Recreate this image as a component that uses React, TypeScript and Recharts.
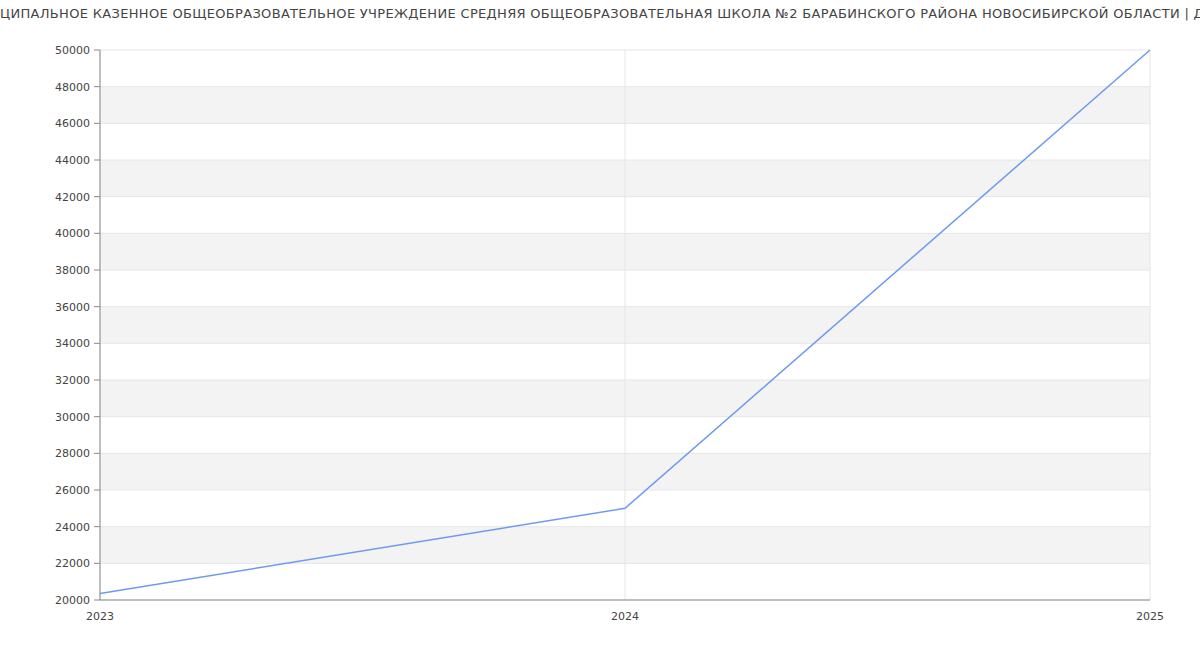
import { LineChart, Line, XAxis, YAxis, CartesianGrid } from "recharts";

const TITLE =
  "ЦИПАЛЬНОЕ КАЗЕННОЕ ОБЩЕОБРАЗОВАТЕЛЬНОЕ УЧРЕЖДЕНИЕ СРЕДНЯЯ ОБЩЕОБРАЗОВАТЕЛЬНАЯ ШКОЛА №2 БАРАБИНСКОГО РАЙОНА НОВОСИБИРСКОЙ ОБЛАСТИ | Д";

const YEARS = [2023, 2024, 2025];
const SALARY = [20350, 25000, 50000];
const Y_TICKS = [
  20000, 22000, 24000, 26000, 28000, 30000, 32000, 34000, 36000, 38000, 40000,
  42000, 44000, 46000, 48000, 50000,
];

const data = YEARS.map((year, i) => ({ year, salary: SALARY[i] }));

const tickStyle = { fontSize: 11, fill: "#444", fontFamily: "DejaVu Sans" };

export default function App() {
  return (
    <div style={{ position: "relative", width: 1200, height: 650, overflow: "hidden", background: "#fff" }}>
      <style>{"body{margin:0}"}</style>
      <div
        style={{
          position: "absolute",
          left: 0,
          top: 6,
          whiteSpace: "nowrap",
          fontFamily: "DejaVu Sans",
          fontSize: 13,
          letterSpacing: 0.32,
          color: "#444",
        }}
      >
        {TITLE}
      </div>
      <LineChart width={1200} height={650} data={data} margin={{ top: 50, right: 50, bottom: 0, left: 0 }}>
        <CartesianGrid stroke="#e6e6e6" horizontalFill={["#ffffff", "#f3f3f3"]} />
        <XAxis
          dataKey="year"
          type="number"
          domain={[2023, 2025]}
          ticks={YEARS}
          tickLine={false}
          stroke="#888"
          tick={tickStyle}
          tickMargin={6}
          height={50}
          interval={0}
        />
        <YAxis
          type="number"
          domain={[20000, 50000]}
          ticks={Y_TICKS}
          interval={0}
          width={100}
          stroke="#888"
          tickSize={6}
          tickMargin={4}
          tick={tickStyle}
        />
        <Line
          type="linear"
          dataKey="salary"
          stroke="#6d9af0"
          strokeWidth={1.5}
          dot={false}
          activeDot={false}
          isAnimationActive={false}
        />
      </LineChart>
    </div>
  );
}
